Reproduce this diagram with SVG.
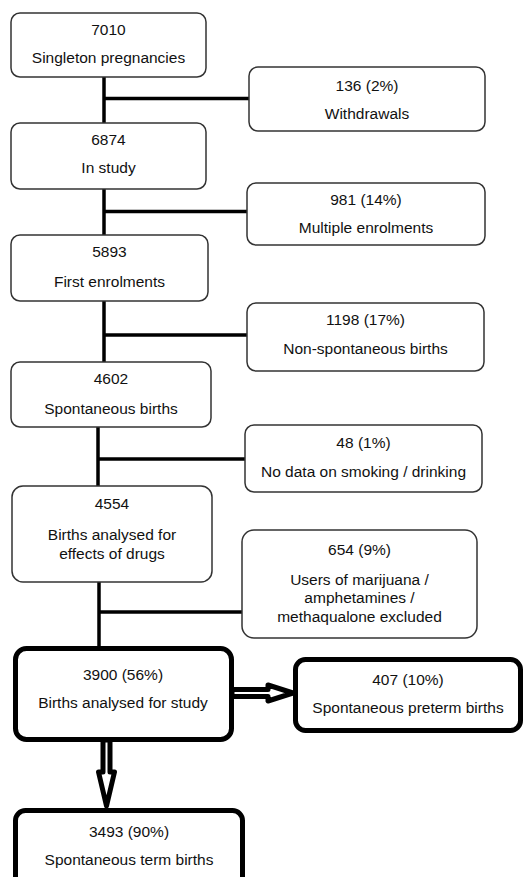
<svg xmlns="http://www.w3.org/2000/svg" width="532" height="877" viewBox="0 0 532 877">
<style>
  .box { fill: #ffffff; stroke: #333333; stroke-width: 1.5; }
  .tbox { fill: #ffffff; stroke: #000000; stroke-width: 5; }
  .ln { stroke: #000000; stroke-width: 3.5; fill: none; }
  .arr { fill: #ffffff; stroke: #000000; stroke-width: 5; stroke-linejoin: round; }
  text { font-family: "Liberation Sans", Arial, sans-serif; font-size: 15.5px; fill: #111111; text-anchor: middle; }
</style>
<rect width="532" height="877" fill="#ffffff"/>
<g id="connectors">
  <line class="ln" x1="104" y1="77" x2="104" y2="123"/>
  <line class="ln" x1="104" y1="98.5" x2="249" y2="98.5"/>
  <line class="ln" x1="104" y1="189" x2="104" y2="235"/>
  <line class="ln" x1="104" y1="211.5" x2="247" y2="211.5"/>
  <line class="ln" x1="104" y1="301" x2="104" y2="362"/>
  <line class="ln" x1="104" y1="335" x2="247" y2="335"/>
  <line class="ln" x1="98" y1="427" x2="98" y2="486"/>
  <line class="ln" x1="98" y1="459" x2="245" y2="459"/>
  <line class="ln" x1="99" y1="582" x2="99" y2="648"/>
  <line class="ln" x1="99" y1="612" x2="242" y2="612"/>
</g>
<g id="n7010">
  <rect class="box" x="11" y="13" width="195" height="64" rx="9"/>
  <text x="108.5" y="35">7010</text>
  <text x="108.5" y="63">Singleton pregnancies</text>
</g>
<g id="n6874">
  <rect class="box" x="11" y="123" width="195" height="66" rx="9"/>
  <text x="108.5" y="145">6874</text>
  <text x="108.5" y="173">In study</text>
</g>
<g id="n5893">
  <rect class="box" x="11" y="235" width="197" height="66" rx="9"/>
  <text x="109.5" y="257">5893</text>
  <text x="109.5" y="287">First enrolments</text>
</g>
<g id="n4602">
  <rect class="box" x="11" y="362" width="200" height="65" rx="9"/>
  <text x="111" y="384">4602</text>
  <text x="111" y="414">Spontaneous births</text>
</g>
<g id="n4554">
  <rect class="box" x="12" y="486" width="200" height="96" rx="11"/>
  <text x="112" y="509">4554</text>
  <text x="112" y="540">Births analysed for</text>
  <text x="112" y="559">effects of drugs</text>
</g>
<g id="n136">
  <rect class="box" x="249" y="67" width="236" height="64" rx="9"/>
  <text x="367" y="91">136 (2%)</text>
  <text x="367" y="119">Withdrawals</text>
</g>
<g id="n981">
  <rect class="box" x="247" y="183" width="238" height="62" rx="9"/>
  <text x="366" y="205">981 (14%)</text>
  <text x="366" y="233">Multiple enrolments</text>
</g>
<g id="n1198">
  <rect class="box" x="247" y="303" width="237" height="68" rx="9"/>
  <text x="365.5" y="325">1198 (17%)</text>
  <text x="365.5" y="354">Non-spontaneous births</text>
</g>
<g id="n48">
  <rect class="box" x="245" y="425" width="237" height="67" rx="9"/>
  <text x="363.5" y="448">48 (1%)</text>
  <text x="363.5" y="477">No data on smoking / drinking</text>
</g>
<g id="n654">
  <rect class="box" x="242" y="530" width="235" height="108" rx="12"/>
  <text x="359.5" y="555">654 (9%)</text>
  <text x="359.5" y="585">Users of marijuana /</text>
  <text x="359.5" y="603">amphetamines /</text>
  <text x="359.5" y="622">methaqualone excluded</text>
</g>
<g id="n3900">
  <rect class="tbox" x="15.5" y="648.5" width="216" height="91" rx="11"/>
  <text x="123" y="680">3900 (56%)</text>
  <text x="123" y="708">Births analysed for study</text>
</g>
<g id="n407">
  <rect class="tbox" x="295.5" y="659.5" width="225" height="71" rx="10"/>
  <text x="408" y="685">407 (10%)</text>
  <text x="408" y="713">Spontaneous preterm births</text>
</g>
<g id="n3493">
  <rect class="tbox" x="15.5" y="810.5" width="227" height="85" rx="10"/>
  <text x="129" y="837">3493 (90%)</text>
  <text x="129" y="865">Spontaneous term births</text>
</g>
<g id="arrows">
  <path class="arr" d="M232,689.5 L268,689.5 L268,685 L293,693 L268,701 L268,696.5 L232,696.5 Z"/>
  <path class="arr" d="M103,740 L103,772 L98.5,772 L106.5,806 L114.5,772 L110,772 L110,740 Z"/>
</g>
</svg>
